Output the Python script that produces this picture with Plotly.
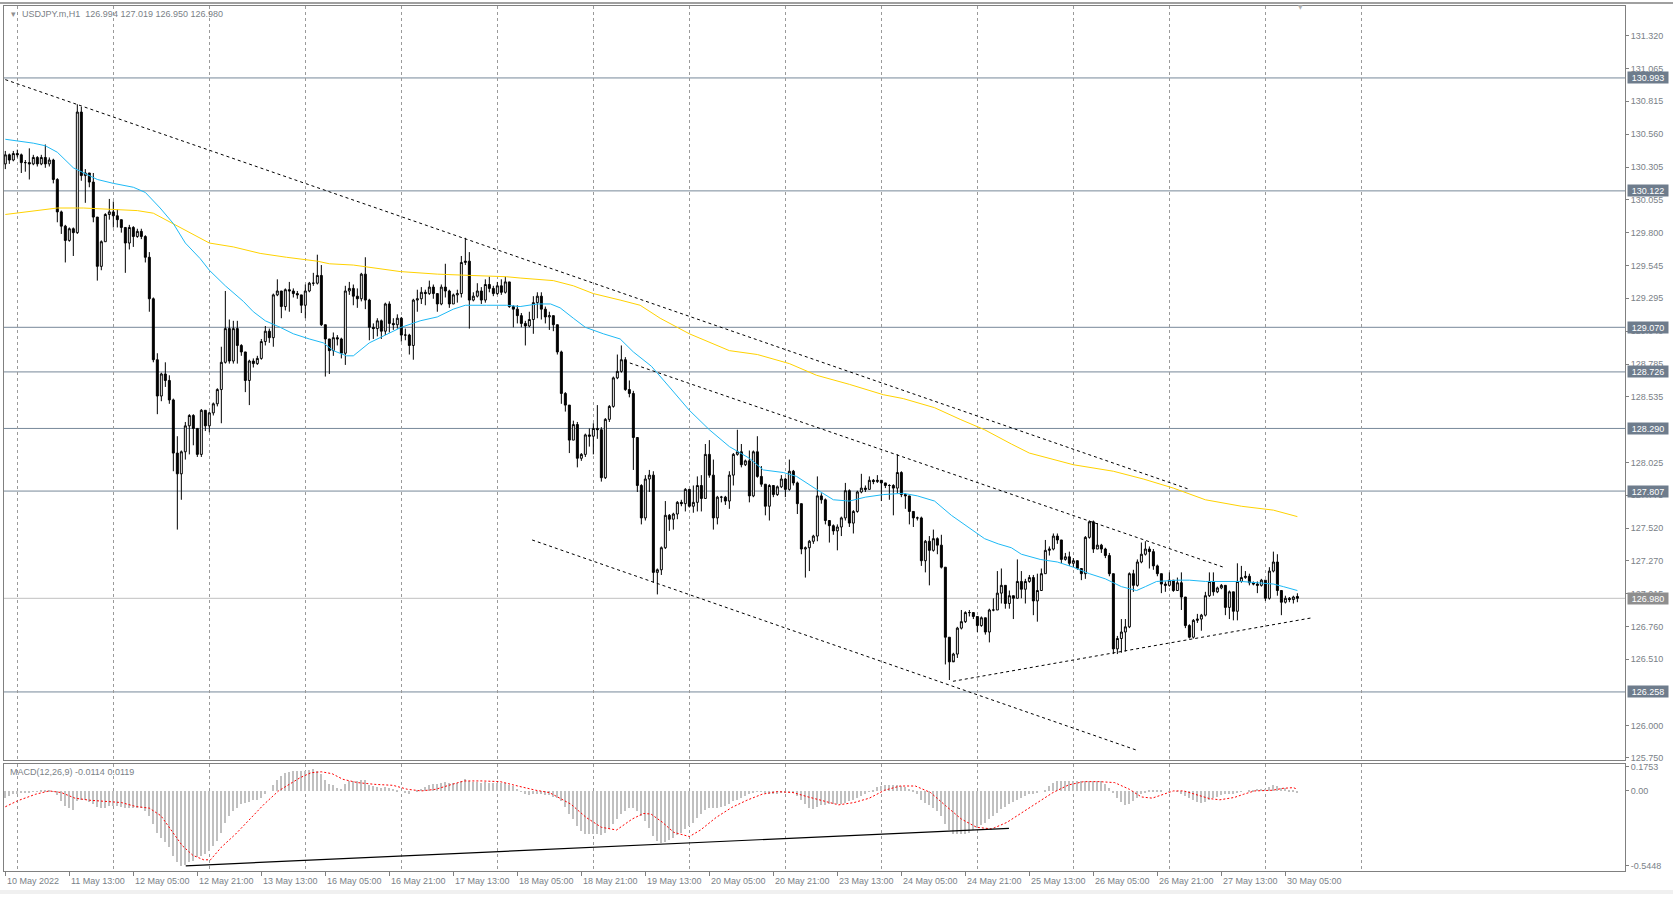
import plotly.graph_objects as go

# ---------------- data ----------------
first_open = 130.33
closes = [
 130.40,130.36,130.41,130.40,130.34,130.34,130.33,130.38,130.33,130.38,
 130.33,130.36,130.21,129.96,129.85,129.74,129.83,129.80,130.73,130.24,
 130.26,130.19,129.92,129.54,129.73,129.94,129.96,129.93,129.90,129.84,
 129.72,129.84,129.77,129.81,129.77,129.61,129.29,128.82,128.54,128.71,
 128.66,128.51,128.10,127.94,128.11,128.31,128.39,128.29,128.09,128.43,
 128.31,128.41,128.48,128.59,128.80,129.06,128.81,129.06,128.93,128.88,
 128.66,128.81,128.79,128.83,128.96,129.04,128.99,129.32,129.35,129.23,
 129.36,129.35,129.33,129.32,129.24,129.35,129.41,129.41,129.47,129.09,
 128.98,128.89,128.99,128.98,128.87,129.35,129.37,129.31,129.29,129.48,
 129.28,129.07,129.06,129.12,129.04,129.25,129.10,129.09,129.14,129.01,
 129.01,128.93,129.28,129.29,129.34,129.33,129.38,129.33,129.25,129.38,
 129.35,129.25,129.32,129.33,129.57,129.58,129.28,129.31,129.35,129.28,
 129.40,129.37,129.33,129.39,129.34,129.42,129.23,129.21,129.16,129.10,
 129.08,129.13,129.26,129.31,129.21,129.15,129.16,129.09,128.88,128.56,
 128.47,128.20,128.32,128.06,128.09,128.24,128.23,128.29,128.28,127.91,
 128.36,128.46,128.68,128.73,128.82,128.59,128.56,128.22,127.85,127.60,
 127.90,127.93,127.18,127.20,127.37,127.62,127.59,127.63,127.72,127.71,
 127.82,127.69,127.72,127.85,127.75,128.09,127.93,127.60,127.76,127.76,
 127.73,127.93,128.09,128.11,128.01,128.04,127.77,128.11,127.92,127.86,
 127.69,127.85,127.78,127.84,127.90,127.82,127.96,127.87,127.71,127.36,
 127.37,127.42,127.46,127.77,127.74,127.58,127.54,127.50,127.53,127.60,
 127.81,127.56,127.65,127.80,127.83,127.82,127.89,127.88,127.89,127.87,
 127.85,127.85,127.83,127.95,127.78,127.77,127.65,127.60,127.60,127.27,
 127.42,127.35,127.44,127.39,127.22,126.68,126.49,126.55,126.75,126.80,
 126.87,126.87,126.84,126.77,126.83,126.72,126.89,126.89,127.02,127.08,
 126.94,127.00,126.98,127.11,127.05,127.11,127.14,126.96,127.04,127.17,
 127.35,127.36,127.46,127.43,127.28,127.30,127.25,127.27,127.21,127.17,
 127.45,127.57,127.36,127.39,127.36,127.31,127.17,126.59,126.67,126.72,
 126.76,127.17,127.08,127.26,127.32,127.36,127.34,127.23,127.17,127.09,
 127.08,127.12,127.04,127.10,126.99,126.77,126.68,126.81,126.82,126.85,
 127.00,127.11,127.03,127.06,127.08,126.91,127.03,126.88,127.11,127.14,
 127.15,127.10,127.09,127.08,127.12,126.98,127.19,127.26,127.04,126.95,
 126.98,126.97,126.99,126.980]
highs = [
 130.43,130.41,130.43,130.44,130.41,130.36,130.45,130.40,130.39,130.40,
 130.48,130.38,130.37,130.22,129.97,129.86,129.84,129.84,130.79,130.77,
 130.29,130.26,130.26,129.92,129.74,129.95,130.06,130.04,129.98,129.90,
 129.84,129.86,129.85,129.83,129.83,129.78,129.65,129.30,128.87,128.72,
 128.80,128.70,128.52,128.23,128.12,128.34,128.40,128.40,128.29,128.44,
 128.43,128.42,128.49,128.60,128.92,129.35,129.13,129.12,129.12,128.94,
 128.88,128.82,128.83,128.85,128.98,129.08,129.06,129.33,129.44,129.35,
 129.37,129.42,129.37,129.35,129.32,129.40,129.42,129.49,129.63,129.55,
 129.09,128.98,129.03,129.01,128.99,129.39,129.42,129.40,129.37,129.49,
 129.61,129.29,129.10,129.14,129.13,129.26,129.27,129.14,129.17,129.15,
 129.06,129.02,129.29,129.36,129.38,129.36,129.43,129.40,129.33,129.40,
 129.56,129.36,129.33,129.36,129.62,129.76,129.65,129.34,129.41,129.38,
 129.44,129.46,129.39,129.42,129.44,129.46,129.42,129.24,129.24,129.18,
 129.12,129.19,129.31,129.34,129.34,129.23,129.19,129.16,129.09,128.89,
 128.57,128.47,128.35,128.34,128.10,128.25,128.29,128.33,128.47,128.30,
 128.37,128.47,128.69,128.86,128.93,128.84,128.66,128.58,128.22,127.86,
 127.93,127.97,127.96,127.21,127.38,127.73,127.63,127.64,127.73,127.74,
 127.83,127.82,127.85,127.92,127.93,128.17,128.20,128.05,127.77,127.77,
 127.77,127.96,128.10,128.28,128.17,128.05,128.12,128.12,128.23,128.00,
 127.86,127.86,127.85,127.85,127.93,127.91,128.05,127.97,127.88,127.71,
 127.38,127.43,127.47,127.92,127.79,127.75,127.58,127.55,127.55,127.61,
 127.87,127.82,127.66,127.81,127.94,127.85,127.92,127.90,127.93,127.89,
 127.87,127.86,127.86,128.09,127.96,127.79,127.77,127.65,127.61,127.61,
 127.43,127.46,127.51,127.45,127.47,127.22,126.68,126.56,126.76,126.89,
 126.88,126.89,126.87,126.83,126.84,126.83,126.90,126.98,127.19,127.21,
 127.08,127.04,127.00,127.28,127.19,127.13,127.16,127.16,127.17,127.21,
 127.43,127.38,127.48,127.48,127.43,127.33,127.34,127.29,127.25,127.21,
 127.46,127.58,127.58,127.56,127.40,127.37,127.33,127.17,126.69,126.82,
 126.82,127.18,127.20,127.28,127.41,127.42,127.38,127.36,127.24,127.17,
 127.11,127.18,127.12,127.14,127.18,126.99,126.78,126.82,126.86,126.86,
 127.03,127.18,127.18,127.07,127.09,127.08,127.04,127.03,127.25,127.23,
 127.19,127.17,127.11,127.11,127.13,127.12,127.22,127.34,127.32,127.04,
 127.00,126.99,127.00,127.019]
lows = [
 130.29,130.33,130.35,130.38,130.26,130.27,130.21,130.32,130.31,130.32,
 130.30,130.31,130.18,129.88,129.79,129.57,129.73,129.62,129.79,130.20,
 130.03,130.15,129.88,129.43,129.51,129.73,129.90,129.84,129.84,129.80,
 129.49,129.67,129.69,129.76,129.75,129.57,129.19,128.80,128.40,128.50,
 128.61,128.48,127.96,127.51,127.74,128.05,128.09,128.16,128.07,128.07,
 128.27,128.26,128.39,128.46,128.33,128.79,128.79,128.79,128.79,128.85,
 128.57,128.47,128.76,128.78,128.82,128.93,128.95,128.92,129.31,129.14,
 129.20,129.19,129.30,129.29,129.18,129.14,129.34,129.39,129.40,129.08,
 128.69,128.71,128.85,128.93,128.83,128.78,129.32,129.24,129.22,129.27,
 129.21,128.97,128.98,129.00,128.98,129.01,129.03,129.05,129.06,128.96,
 128.97,128.86,128.82,129.19,129.25,129.24,129.32,129.29,129.19,129.24,
 129.30,129.22,129.25,129.26,129.30,129.55,129.06,129.27,129.30,129.25,
 129.26,129.34,129.31,129.32,129.32,129.33,129.22,129.07,129.10,129.07,
 128.93,129.07,129.02,129.14,129.13,129.10,129.05,129.04,128.86,128.48,
 128.42,128.10,128.20,127.99,128.04,128.07,128.15,128.09,128.21,127.88,
 127.90,128.34,128.45,128.67,128.72,128.58,128.53,127.97,127.80,127.55,
 127.58,127.80,127.10,127.01,127.16,127.36,127.50,127.51,127.59,127.69,
 127.65,127.68,127.64,127.65,127.65,127.75,127.91,127.51,127.55,127.72,
 127.70,127.67,127.85,128.08,127.99,128.00,127.72,127.76,127.91,127.84,
 127.62,127.58,127.76,127.77,127.83,127.76,127.81,127.85,127.63,127.32,
 127.14,127.19,127.40,127.42,127.71,127.55,127.41,127.47,127.35,127.46,
 127.58,127.53,127.48,127.64,127.79,127.80,127.82,127.86,127.87,127.73,
 127.83,127.74,127.62,127.79,127.76,127.67,127.55,127.53,127.58,127.23,
 127.18,127.08,127.34,127.32,127.21,126.47,126.35,126.50,126.52,126.74,
 126.79,126.84,126.82,126.72,126.76,126.70,126.64,126.88,126.89,126.94,
 126.90,126.90,126.82,126.98,126.98,126.94,127.10,126.85,126.80,127.04,
 127.17,127.31,127.35,127.40,127.25,127.27,127.23,127.22,127.20,127.12,
 127.13,127.44,127.33,127.36,127.33,127.29,127.15,126.55,126.55,126.56,
 126.57,126.75,127.03,127.07,127.25,127.31,127.21,127.20,127.15,127.02,
 127.03,127.07,127.03,127.04,126.89,126.75,126.67,126.67,126.79,126.73,
 126.84,126.99,127.00,127.02,127.05,126.85,126.82,126.81,126.81,127.10,
 127.13,127.08,127.08,127.02,127.07,126.96,126.97,127.18,127.00,126.85,
 126.94,126.95,126.94,126.950]
last_open = 126.994

# moving averages (sampled along the drawn curves)
ma_fast_x = [0,7,10,13,17,19.5,23,27,32,35,38.7,42,45,48.7,51,55,59.5,62,65,68.7,
             72,76,79.5,82,85.3,87,91,95,99,103.7,108,112,115,120.3,125.3,128.7,133,136.3,138.7,142,
             145,149.5,153.7,157,161.5,166,171,176,181,186,189.5,194.5,197.8,202.8,207,211,215,219.5,224.5,228,
             232.3,236.5,240.7,244.8,248.2,251.5,254,258.7,263,267,271,275,279,282.8,285,287.8,293,296,300,304,
             309,313,317,319.5,323]
ma_fast_y = [130.52,130.49,130.47,130.42,130.30,130.26,130.21,130.18,130.15,130.11,
             129.99,129.87,129.72,129.60,129.51,129.39,129.27,129.19,129.12,129.07,
             129.02,128.98,128.95,128.89,128.85,128.85,128.95,129.01,129.07,129.12,
             129.15,129.21,129.24,129.24,129.24,129.23,129.25,129.25,129.22,129.14,
             129.07,129.02,128.98,128.88,128.77,128.61,128.43,128.28,128.15,128.06,
             127.97,127.95,127.92,127.82,127.74,127.73,127.76,127.78,127.79,127.77,
             127.73,127.62,127.53,127.44,127.40,127.37,127.32,127.28,127.26,127.22,
             127.17,127.13,127.07,127.04,127.07,127.11,127.12,127.12,127.11,127.11,
             127.11,127.10,127.09,127.07,127.04]
ma_slow_x = [0,7,13,19.5,26,33,37,42,47,51,57,63.7,70.3,78,81,87,98.7,108,116.3,125.3,
             128.7,137,142,147,153.7,158.7,163.7,171,181,188,196,202.8,211,219.5,224.5,232.3,238.7,244.8,251.5,256,
             267,277,284.5,292,300,309,317,323]
ma_slow_y = [129.94,129.97,129.99,129.99,129.98,129.97,129.95,129.87,129.79,129.72,
             129.69,129.64,129.61,129.58,129.56,129.55,129.50,129.48,129.47,129.46,
             129.45,129.43,129.39,129.33,129.28,129.24,129.14,129.02,128.89,128.86,
             128.79,128.70,128.63,128.55,128.52,128.45,128.36,128.28,128.17,128.10,
             128.01,127.96,127.90,127.83,127.74,127.69,127.66,127.61]

# MACD(12,26,9): main histogram per bar and the signal line
macd_main = [
 -0.053,-0.036,-0.024,-0.017,-0.012,-0.012,-0.007,-0.005,-0.002,0.005,
 0.007,0.005,-0.005,-0.031,-0.073,-0.109,-0.121,-0.140,-0.073,-0.068,
 -0.068,-0.077,-0.092,-0.116,-0.126,-0.121,-0.111,-0.109,-0.109,-0.116,
 -0.126,-0.121,-0.121,-0.121,-0.126,-0.145,-0.182,-0.242,-0.303,-0.339,
 -0.375,-0.412,-0.472,-0.520,-0.545,-0.540,-0.520,-0.508,-0.484,-0.472,
 -0.460,-0.436,-0.399,-0.363,-0.303,-0.230,-0.182,-0.145,-0.121,-0.097,
 -0.085,-0.077,-0.068,-0.061,-0.048,-0.024,0.000,0.044,0.085,0.109,
 0.133,0.140,0.145,0.150,0.150,0.150,0.155,0.160,0.150,0.126,
 0.085,0.053,0.044,0.024,0.019,0.053,0.073,0.077,0.073,0.082,
 0.080,0.048,0.036,0.029,0.024,0.029,0.024,0.019,0.012,0.000,
 -0.012,-0.024,0.000,0.005,0.019,0.029,0.048,0.053,0.053,0.061,
 0.068,0.063,0.058,0.063,0.077,0.092,0.073,0.068,0.065,0.063,
 0.065,0.063,0.063,0.063,0.063,0.063,0.048,0.036,0.019,-0.005,
 -0.024,-0.029,-0.019,-0.024,-0.024,-0.029,-0.029,-0.044,-0.053,-0.073,
 -0.116,-0.169,-0.206,-0.254,-0.291,-0.310,-0.315,-0.310,-0.310,-0.320,
 -0.303,-0.278,-0.242,-0.206,-0.169,-0.145,-0.126,-0.126,-0.145,-0.182,
 -0.218,-0.266,-0.327,-0.368,-0.380,-0.375,-0.358,-0.339,-0.320,-0.303,
 -0.278,-0.254,-0.230,-0.199,-0.169,-0.140,-0.121,-0.121,-0.121,-0.116,
 -0.109,-0.097,-0.073,-0.061,-0.048,-0.036,-0.024,-0.012,-0.005,-0.005,
 -0.012,-0.019,-0.024,-0.019,-0.012,-0.012,-0.005,-0.012,-0.036,-0.068,
 -0.097,-0.121,-0.133,-0.116,-0.102,-0.102,-0.097,-0.092,-0.097,-0.092,
 -0.085,-0.073,-0.068,-0.053,-0.036,-0.019,-0.005,0.012,0.029,0.036,
 0.044,0.044,0.044,0.044,0.036,0.029,0.019,0.005,-0.019,-0.061,
 -0.085,-0.102,-0.121,-0.145,-0.182,-0.242,-0.286,-0.310,-0.315,-0.310,
 -0.310,-0.303,-0.286,-0.266,-0.247,-0.230,-0.206,-0.182,-0.157,-0.133,
 -0.116,-0.097,-0.077,-0.061,-0.048,-0.036,-0.024,-0.019,-0.012,0.000,
 0.012,0.036,0.061,0.073,0.077,0.077,0.077,0.073,0.073,0.073,
 0.073,0.073,0.073,0.073,0.073,0.053,0.024,-0.012,-0.048,-0.080,
 -0.099,-0.092,-0.070,-0.048,-0.024,-0.007,0.005,0.012,0.012,0.007,
 0.000,-0.005,0.000,-0.005,-0.019,-0.036,-0.048,-0.068,-0.077,-0.085,
 -0.077,-0.061,-0.053,-0.044,-0.029,-0.024,-0.024,-0.019,-0.012,-0.005,
 0.000,0.005,0.012,0.019,0.019,0.019,0.029,0.044,0.036,0.024,
 0.024,0.012,0.002,-0.0114]
sig_x = [0,3,7.6,11,14,17.4,21,25.5,29,32.6,36,38.9,41.5,44.2,46.9,49.6,51.3,54,57.6,61.2,
         64.7,68.3,71,73.7,76.4,79,81.7,84.4,88,92.4,96.9,100.5,104,107.6,111.2,114.7,119.2,123.7,128.1,132.6,
         136,141.4,145.2,149,152.8,156.7,159.5,161.4,164.3,167.1,171,173.8,177.7,181.6,185.4,189.2,193,196.9,200.7,204.5,
         208.3,212.2,216,219.8,223.7,227.5,231.3,235.1,239,242.8,246.6,250.4,254.3,258.1,261.9,265.8,269.6,273.5,277.3,281,
         284,286.7,289.4,292,294.6,297.3,301,303.6,307.2,309.6,312.3,316.8,319.4,322,323]
sig_y = [-0.116,-0.073,-0.024,0.000,-0.012,-0.053,-0.068,-0.080,-0.085,-0.114,
         -0.126,-0.182,-0.291,-0.399,-0.472,-0.504,-0.504,-0.412,-0.315,-0.206,
         -0.097,0.000,0.048,0.097,0.133,0.140,0.126,0.085,0.061,0.048,
         0.041,0.012,0.000,0.012,0.044,0.073,0.073,0.068,0.036,0.005,
         -0.012,-0.097,-0.194,-0.266,-0.286,-0.206,-0.165,-0.169,-0.230,-0.303,
         -0.334,-0.286,-0.194,-0.121,-0.068,-0.024,-0.005,-0.012,-0.044,-0.073,
         -0.102,-0.085,-0.053,0.005,0.036,0.036,-0.012,-0.109,-0.206,-0.266,
         -0.278,-0.230,-0.157,-0.085,-0.012,0.044,0.068,0.068,0.061,0.012,
         -0.044,-0.053,-0.024,0.000,0.000,-0.024,-0.056,-0.065,-0.048,-0.024,
         0.000,0.005,0.019,0.024,0.0119]

# hand-drawn trend lines (bar index, price)
trend_x = [[0, 296], [154.7, 304.5], [131.7, 282.7], [236.9, 326.7]]
trend_y = [[130.98, 127.82], [128.81, 127.22], [127.43, 125.81], [126.34, 126.83]]
macd_trend_x = [45.1, 250.9]
macd_trend_y = [-0.548, -0.274]

levels = [130.993, 130.122, 129.070, 128.726, 128.290, 127.807, 126.258]
bid = 126.980

price_ticks = [131.320, 131.065, 130.815, 130.560, 130.305, 130.055, 129.800, 129.545,
               129.295, 129.040, 128.785, 128.535, 128.025, 127.775, 127.520,
               127.270, 127.015, 126.760, 126.510, 126.000, 125.750]
macd_ticks = [0.1753, 0.0, -0.5448]
macd_tick_text = ["0.1753", "0.00", "-0.5448"]

time_labels = ["10 May 2022", "11 May 13:00", "12 May 05:00", "12 May 21:00", "13 May 13:00",
               "16 May 05:00", "16 May 21:00", "17 May 13:00", "18 May 05:00", "18 May 21:00",
               "19 May 13:00", "20 May 05:00", "20 May 21:00", "23 May 13:00", "24 May 05:00",
               "24 May 21:00", "25 May 13:00", "26 May 05:00", "26 May 21:00", "27 May 13:00",
               "30 May 05:00"]
label_step = 16          # bars between time labels
day_first, day_step = 3, 24   # bar index of the first midnight, bars per day

title_text = "USDJPY.m,H1  126.994 127.019 126.950 126.980"
macd_title = "MACD(12,26,9) -0.0114 0.0119"

# ---------------- figure ----------------
W, H = 1673, 897
n = len(closes)
idx = list(range(n))
opens = [first_open] + closes[:-1]
opens[-1] = last_open

def px(xp):
    return xp / W
def py(yp):
    return 1 - yp / H

xdom = [px(4), px(1625)]
x_range = [-0.33, 404.9]
FONT = "Liberation Sans"
GRAY = "#808080"
TXT = "#7a7f87"

fig = go.Figure()

fig.add_trace(go.Candlestick(
    x=idx, open=opens, high=highs, low=lows, close=closes,
    increasing=dict(line=dict(color="black", width=1), fillcolor="white"),
    decreasing=dict(line=dict(color="black", width=1), fillcolor="black"),
    whiskerwidth=0, hoverinfo="skip", showlegend=False, xaxis="x", yaxis="y"))

fig.add_trace(go.Scatter(x=ma_slow_x, y=ma_slow_y, mode="lines",
                         line=dict(color="#FFD200", width=1), hoverinfo="skip",
                         showlegend=False, xaxis="x", yaxis="y"))
fig.add_trace(go.Scatter(x=ma_fast_x, y=ma_fast_y, mode="lines",
                         line=dict(color="#1EB9F5", width=1), hoverinfo="skip",
                         showlegend=False, xaxis="x", yaxis="y"))

for tx, ty in zip(trend_x, trend_y):
    fig.add_trace(go.Scatter(x=tx, y=ty, mode="lines",
                             line=dict(color="black", width=1, dash="3px,3px"),
                             hoverinfo="skip", showlegend=False, xaxis="x", yaxis="y"))

fig.add_trace(go.Bar(x=idx, y=macd_main, width=0.55, marker=dict(color="#C0C0C0", line=dict(width=0)),
                     hoverinfo="skip", showlegend=False, xaxis="x2", yaxis="y2"))
fig.add_trace(go.Scatter(x=sig_x, y=sig_y, mode="lines",
                         line=dict(color="#FF0000", width=1, dash="2px,2px"),
                         hoverinfo="skip", showlegend=False, xaxis="x2", yaxis="y2"))
fig.add_trace(go.Scatter(x=macd_trend_x, y=macd_trend_y, mode="lines",
                         line=dict(color="black", width=1.2),
                         hoverinfo="skip", showlegend=False, xaxis="x2", yaxis="y2"))

day_lines = list(range(day_first, int(x_range[1]) - 60, day_step))
label_pos = [k * label_step for k in range(len(time_labels))]

grid_minor = dict(tickmode="array", tickvals=day_lines, showgrid=True,
                  gridcolor="#9a9a9a", griddash="3px,3px", gridwidth=1, ticks="")

fig.update_layout(
    width=W, height=H, autosize=False,
    margin=dict(l=0, r=0, t=0, b=0),
    paper_bgcolor="white", plot_bgcolor="white",
    font=dict(family=FONT, size=9, color=TXT),
    showlegend=False, bargap=0,
    xaxis=dict(domain=xdom, range=x_range, anchor="y", showticklabels=False, ticks="",
               showgrid=False, zeroline=False, showline=True, mirror=True,
               linecolor=GRAY, linewidth=1, minor=grid_minor,
               rangeslider=dict(visible=False), fixedrange=True),
    yaxis=dict(domain=[py(762), py(4)], range=[125.735, 131.548], anchor="x", side="right",
               tickmode="array", tickvals=price_ticks, ticktext=[f"{v:.3f}" for v in price_ticks],
               ticks="outside", ticklen=3, tickcolor=GRAY, tickfont=dict(size=9, color=TXT),
               showgrid=False, zeroline=False, showline=True, mirror=True,
               linecolor=GRAY, linewidth=1, fixedrange=True),
    xaxis2=dict(domain=xdom, range=x_range, anchor="y2", matches="x",
                tickmode="array", tickvals=label_pos, showticklabels=False,
                ticks="outside", ticklen=4, tickcolor=GRAY,
                showgrid=False, zeroline=False, showline=True, mirror=True,
                linecolor=GRAY, linewidth=1, minor=grid_minor, fixedrange=True),
    yaxis2=dict(domain=[py(874), py(766)], range=[-0.587, 0.199], anchor="x2", side="right",
                tickmode="array", tickvals=macd_ticks, ticktext=macd_tick_text,
                ticks="outside", ticklen=3, tickcolor=GRAY, tickfont=dict(size=9, color=TXT),
                showgrid=False, zeroline=False, showline=True, mirror=True,
                linecolor=GRAY, linewidth=1, fixedrange=True),
)

shapes = []
for lv in levels:
    shapes.append(dict(type="line", xref="x domain", yref="y", x0=0, x1=1, y0=lv, y1=lv,
                       line=dict(color="#778899", width=1), layer="below"))
shapes.append(dict(type="line", xref="x domain", yref="y", x0=0, x1=1, y0=bid, y1=bid,
                   line=dict(color="#C0C0C0", width=1), layer="below"))
# window edges
shapes.append(dict(type="rect", xref="paper", yref="paper", x0=0, x1=1, y0=0, y1=4 / H,
                   fillcolor="#F0F0F0", line=dict(width=0)))
shapes.append(dict(type="line", xref="paper", yref="paper", x0=0, x1=1, y0=1 - 1 / H, y1=1 - 1 / H,
                   line=dict(color="#A0A0A0", width=2)))
fig.update_layout(shapes=shapes)

ann = []
for lv in levels:
    ann.append(dict(xref="paper", yref="y", x=px(1627), y=lv, xanchor="left", yanchor="middle",
                    text=f"{lv:.3f}", showarrow=False, bgcolor="#6E7C8C", width=40, height=11,
                    borderpad=0, font=dict(size=9, color="white", family=FONT)))
ann.append(dict(xref="paper", yref="y", x=px(1627), y=bid, xanchor="left", yanchor="middle",
                text=f"{bid:.3f}", showarrow=False, bgcolor="#8E8E8E", width=40, height=11,
                borderpad=0, font=dict(size=9, color="white", family=FONT)))
for pos, lab in zip(label_pos, time_labels):
    ann.append(dict(xref="x2", yref="paper", x=pos, y=py(884), xanchor="left", yanchor="middle",
                    xshift=0, text=lab, showarrow=False, font=dict(size=9, color=TXT, family=FONT)))
ann.append(dict(xref="paper", yref="paper", x=px(9), y=py(12.5), xanchor="left", yanchor="middle",
                text="▾", showarrow=False, font=dict(size=9, color="#909090", family="DejaVu Sans")))
ann.append(dict(xref="paper", yref="paper", x=px(20), y=py(12.5), xanchor="left", yanchor="middle",
                text=title_text, showarrow=False, font=dict(size=9, color=TXT, family=FONT)))
ann.append(dict(xref="paper", yref="paper", x=px(8), y=py(774), xanchor="left", yanchor="middle",
                text=macd_title, showarrow=False, font=dict(size=9, color=TXT, family=FONT)))
ann.append(dict(xref="x", yref="paper", x=n - 1 + 0.7, y=py(5), xanchor="center", yanchor="middle",
                text="▼", showarrow=False, font=dict(size=6, color="#B0B0B0", family="DejaVu Sans")))
fig.update_layout(annotations=ann)

fig.write_html("out.html", config={"displayModeBar": False},
               post_script="document.body.style.margin='0';document.body.style.overflow='hidden';")
